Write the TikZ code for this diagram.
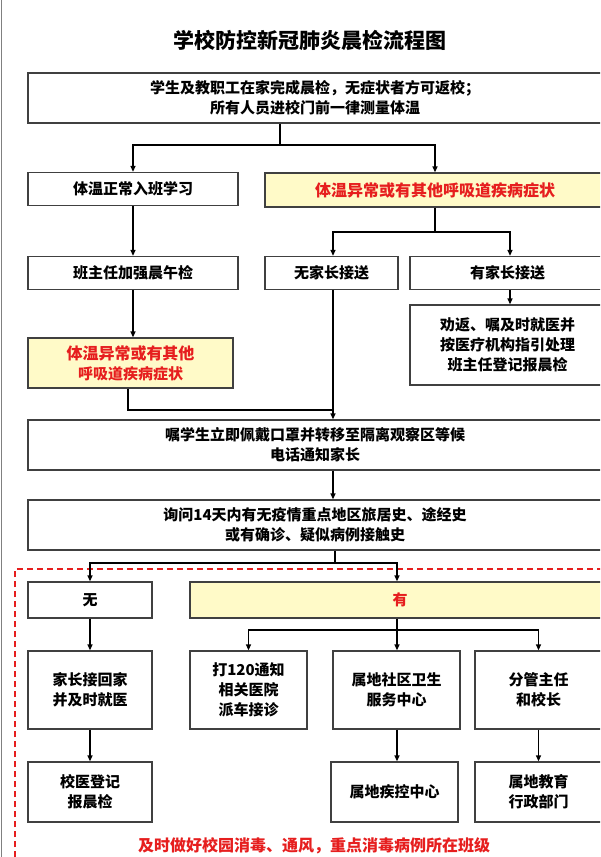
\documentclass[tikz,border=0pt]{standalone}
\usepackage{fontspec}
\setmainfont{Noto Sans CJK SC}
\usetikzlibrary{arrows.meta}
\definecolor{yel}{RGB}{255,250,200}
\definecolor{redt}{RGB}{230,30,30}
\begin{document}
\begin{tikzpicture}[x=1pt,y=-1pt,
 box/.style={draw=black!75,line width=1.3pt,fill=white,align=center,inner sep=0pt,font=\fontsize{15}{20}\selectfont\bfseries},
 ybox/.style={box,fill=yel,text=redt},
 arr/.style={line width=1.3pt,-{Triangle[length=6pt,width=5pt]}},
 ln/.style={line width=1.3pt}]
\useasboundingbox (0,0) rectangle (600,857);
\clip (0,0) rectangle (600,857);
\fill[white] (0,0) rectangle (600,857);
\draw[gray,line width=1pt] (1.5,0) -- (1.5,857);
\node[font=\fontsize{21}{24}\selectfont\bfseries] (title) at (310,40) {学校防控新冠肺炎晨检流程图};
\node[box,minimum width=574,minimum height=50] (b1) at (315,98) {学生及教职工在家完成晨检，无症状者方可返校；\\所有人员进校门前一律测量体温};
\node[box,minimum width=210,minimum height=33] (n1) at (133,189) {体温正常入班学习};
\node[ybox,minimum width=340,minimum height=34] (y1) at (435,190) {\fontsize{16}{20}\selectfont 体温异常或有其他呼吸道疾病症状};
\node[box,minimum width=210,minimum height=33] (n2) at (133,273) {班主任加强晨午检};
\node[box,minimum width=133,minimum height=33] (n3) at (331.5,273) {无家长接送};
\node[box,minimum width=195,minimum height=33] (n4) at (507.5,273) {有家长接送};
\node[ybox,minimum width=205,minimum height=50] (y2) at (130.5,363) {\fontsize{16}{21}\selectfont 体温异常或有其他\\呼吸道疾病症状};
\node[box,minimum width=195,minimum height=80] (n5) at (507.5,345) {劝返、嘱及时就医并\\按医疗机构指引处理\\班主任登记报晨检};
\node[box,minimum width=574,minimum height=50] (b2) at (315,445) {嘱学生立即佩戴口罩并转移至隔离观察区等候\\电话通知家长};
\node[box,minimum width=574,minimum height=50] (b3) at (315,525) {询问14天内有无疫情重点地区旅居史、途经史\\或有确诊、疑似病例接触史};
\draw[redt,line width=1.2pt,dash pattern=on 6pt off 4pt] (15,857) -- (15,569) -- (610,569);
\node[box,minimum width=124,minimum height=36] (w1) at (90,600) {无};
\node[ybox,minimum width=420,minimum height=36] (w2) at (400,600) {有};
\node[box,minimum width=124,minimum height=78] (c1) at (90,690) {家长接回家\\并及时就医};
\node[box,minimum width=124,minimum height=60] (c1b) at (90,792) {校医登记\\报晨检};
\node[box,minimum width=117,minimum height=78] (c2) at (248.5,690) {打120通知\\相关医院\\派车接诊};
\node[box,minimum width=127,minimum height=78] (c3) at (396.5,690) {属地社区卫生\\服务中心};
\node[box,minimum width=127,minimum height=60] (c3b) at (394.5,792) {属地疾控中心};
\node[box,minimum width=127,minimum height=78] (c4) at (538.5,690) {分管主任\\和校长};
\node[box,minimum width=127,minimum height=60] (c4b) at (538.5,792) {属地教育\\行政部门};
\node[text=redt,font=\fontsize{16}{18}\selectfont\bfseries] (foot) at (314,846) {及时做好校园消毒、通风，重点消毒病例所在班级};
\coordinate (j1) at (280,145);
\draw[ln] (b1.south -| j1) -- (j1);
\draw[arr] (j1) -| (n1.north);
\draw[arr] (j1) -| (y1.north);
\draw[arr] (n1) -- (n2);
\coordinate (j2) at (435,232);
\draw[ln] (y1.south -| j2) -- (j2);
\draw[arr] (j2) -| (n3.north -| 333,0);
\draw[arr] (j2) -| (n4.north -| 510,0);
\draw[arr] (n2) -- (y2.north -| n2);
\draw[arr] (n4.south -| 510,0) -- (n5.north -| 510,0);
\coordinate (j3) at (128,410);
\draw[ln] (y2.south -| j3) -- (j3) -- (333,410);
\draw[arr] (n3.south -| 333,0) -- (b2.north -| 333,0);
\draw[arr] (b2.south -| 333,0) -- (b3.north -| 333,0);
\coordinate (j4) at (335,563);
\draw[ln] (b3.south -| j4) -- (j4);
\draw[arr] (j4) -| (w1.north);
\draw[arr] (j4) -| (w2.north -| 397,0);
\draw[arr] (w1) -- (c1);
\draw[arr] (c1) -- (c1b);
\coordinate (j5) at (397,630);
\draw[ln] (w2.south -| j5) -- (j5);
\draw[arr] (j5) -| (c2.north);
\draw[arr] (j5) -- (c3.north -| j5);
\draw[arr] (j5) -| (c4.north);
\draw[arr] (c3.south -| j5) -- (c3b.north -| j5);
\draw[arr] (c4) -- (c4b);
\end{tikzpicture}
\end{document}
